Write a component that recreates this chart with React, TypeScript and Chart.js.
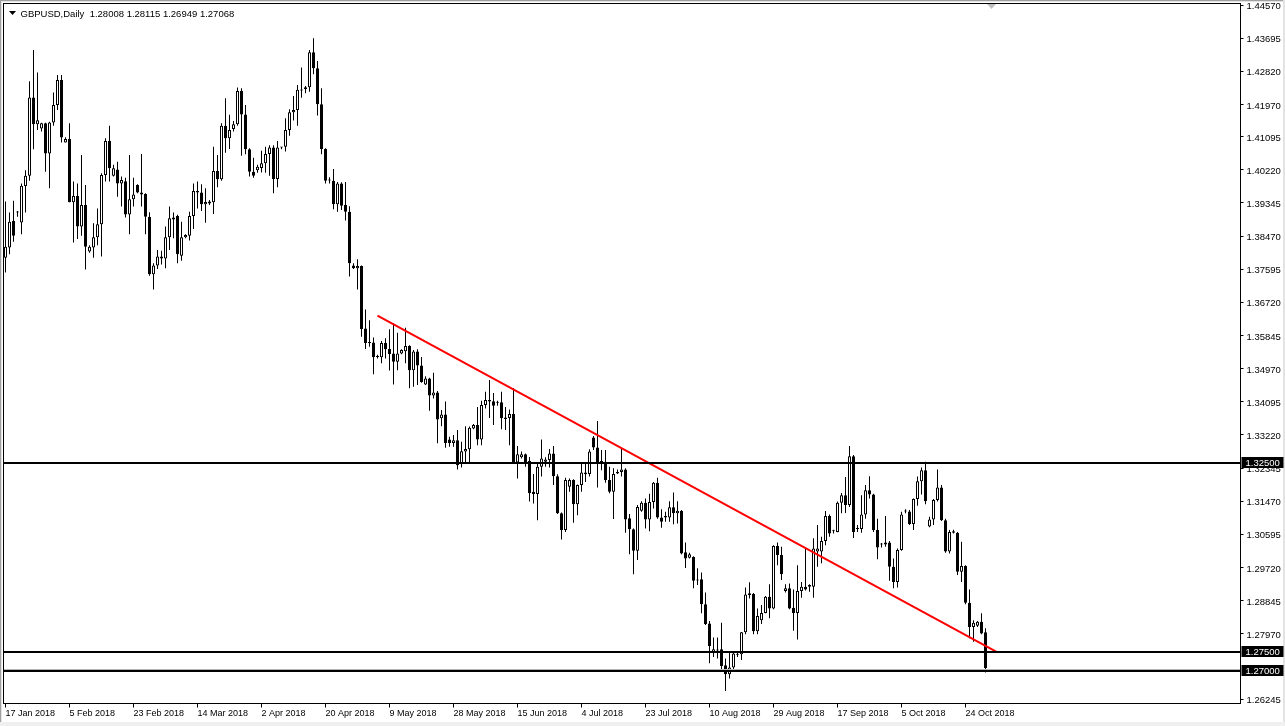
import React, { useEffect, useRef } from 'react';
import { Chart, registerables } from 'chart.js';

Chart.register(...registerables);

const opens = [
  1.3790, 1.3817, 1.3887, 1.3909, 1.3883, 1.3979, 1.4006, 1.4213, 1.4142, 1.4131,
  1.4145, 1.4065, 1.4147, 1.4193, 1.4259, 1.4094, 1.4103, 1.3936, 1.3953, 1.3872,
  1.3929, 1.3806, 1.3817, 1.3844, 1.3878, 1.4008, 1.4098, 1.4006, 1.4023, 1.3986,
  1.3992, 1.3904, 1.3944, 1.3982, 1.3962, 1.3958, 1.3898, 1.3746, 1.3769, 1.3788,
  1.3788, 1.3844, 1.3891, 1.3900, 1.3795, 1.3844, 1.3848, 1.3900, 1.3966, 1.3962,
  1.3931, 1.3938, 1.3936, 1.4019, 1.3997, 1.4138, 1.4105, 1.4130, 1.4142, 1.4230,
  1.4168, 1.4076, 1.4017, 1.4021, 1.4027, 1.4039, 1.4064, 1.4081, 1.3998, 1.4081,
  1.4083, 1.4127, 1.4174, 1.4180, 1.4234, 1.4235, 1.4240, 1.4332, 1.4290, 1.4195,
  1.4077, 1.3995, 1.3993, 1.3931, 1.3986, 1.3929, 1.3911, 1.3769, 1.3762, 1.3768,
  1.3603, 1.3566, 1.3566, 1.3529, 1.3527, 1.3565, 1.3549, 1.3537, 1.3515, 1.3537,
  1.3543, 1.3557, 1.3493, 1.3542, 1.3505, 1.3455, 1.3471, 1.3426, 1.3434, 1.3366,
  1.3376, 1.3310, 1.3301, 1.3308, 1.3247, 1.3278, 1.3284, 1.3339, 1.3348, 1.3310,
  1.3401, 1.3410, 1.3411, 1.3408, 1.3408, 1.3368, 1.3367, 1.3377, 1.3249, 1.3263,
  1.3271, 1.3253, 1.3172, 1.3166, 1.3238, 1.3251, 1.3256, 1.3273, 1.3213, 1.3115,
  1.3071, 1.3185, 1.3203, 1.3139, 1.3190, 1.3223, 1.3219, 1.3315, 1.3289, 1.3253,
  1.3251, 1.3203, 1.3172, 1.3220, 1.3224, 1.3231, 1.3102, 1.3073, 1.3016, 1.3122,
  1.3143, 1.3099, 1.3145, 1.3196, 1.3104, 1.3108, 1.3104, 1.3131, 1.3115, 1.3121,
  1.3012, 1.2998, 1.3000, 1.2940, 1.2941, 1.2875, 1.2824, 1.2747, 1.2755, 1.2756,
  1.2714, 1.2690, 1.2708, 1.2742, 1.2743, 1.2801, 1.2899, 1.2902, 1.2804, 1.2833,
  1.2852, 1.2895, 1.2864, 1.3029, 1.3005, 1.2910, 1.2917, 1.2866, 1.2852, 1.2910,
  1.2921, 1.2921, 1.2921, 1.3014, 1.3014, 1.3042, 1.3108, 1.3070, 1.3066, 1.3143,
  1.3163, 1.3137, 1.3266, 1.3076, 1.3074, 1.3112, 1.3176, 1.3165, 1.3071, 1.3035,
  1.3033, 1.3038, 1.2974, 1.2934, 1.3018, 1.3120, 1.3120, 1.3087, 1.3153, 1.3200,
  1.3229, 1.3080, 1.3099, 1.3150, 1.3183, 1.3097, 1.3014, 1.3068, 1.3064, 1.2961,
  1.2976, 1.2879, 1.2815, 1.2818, 1.2829, 1.28008,
];

const highs = [
  1.3938, 1.3909, 1.3940, 1.3913, 1.3986, 1.4021, 1.4256, 1.4338, 1.4279, 1.4146,
  1.4146, 1.4149, 1.4226, 1.4272, 1.4272, 1.4108, 1.4145, 1.3991, 1.3986, 1.4061,
  1.3982, 1.3823, 1.3881, 1.3920, 1.4013, 1.4105, 1.4138, 1.4035, 1.4043, 1.4004,
  1.4001, 1.4061, 1.4001, 1.3984, 1.4064, 1.3960, 1.3910, 1.3775, 1.3810, 1.3808,
  1.3872, 1.3925, 1.3909, 1.3903, 1.3885, 1.3852, 1.3911, 1.3986, 1.3991, 1.3984,
  1.3973, 1.3942, 1.4083, 1.4061, 1.4145, 1.4211, 1.4167, 1.4151, 1.4239, 1.4237,
  1.4193, 1.4079, 1.4054, 1.4035, 1.4072, 1.4083, 1.4087, 1.4087, 1.4098, 1.4082,
  1.4158, 1.4182, 1.4217, 1.4246, 1.4292, 1.4243, 1.4338, 1.4369, 1.4309, 1.4237,
  1.4079, 1.4002, 1.4024, 1.3990, 1.3989, 1.3990, 1.3926, 1.3775, 1.3786, 1.3769,
  1.3653, 1.3625, 1.3579, 1.3534, 1.3570, 1.3577, 1.3601, 1.3617, 1.3592, 1.3548,
  1.3605, 1.3559, 1.3546, 1.3548, 1.3528, 1.3477, 1.3473, 1.3486, 1.3438, 1.3388,
  1.3410, 1.3317, 1.3322, 1.3335, 1.3304, 1.3345, 1.3344, 1.3351, 1.3396, 1.3412,
  1.3436, 1.3467, 1.3433, 1.3412, 1.3436, 1.3396, 1.3389, 1.3445, 1.3293, 1.3278,
  1.3273, 1.3264, 1.3219, 1.3247, 1.3310, 1.3263, 1.3285, 1.3293, 1.3218, 1.3117,
  1.3209, 1.3207, 1.3205, 1.3191, 1.3245, 1.3247, 1.3284, 1.3319, 1.3359, 1.3282,
  1.3282, 1.3238, 1.3234, 1.3231, 1.3286, 1.3234, 1.3113, 1.3075, 1.3137, 1.3147,
  1.3154, 1.3167, 1.3198, 1.3209, 1.3126, 1.3119, 1.3147, 1.3170, 1.3147, 1.3124,
  1.3038, 1.3011, 1.3002, 1.2970, 1.2959, 1.2906, 1.2831, 1.2787, 1.2787, 1.2826,
  1.2732, 1.2747, 1.2747, 1.2747, 1.2802, 1.2919, 1.2933, 1.2905, 1.2864, 1.2873,
  1.2897, 1.2928, 1.3031, 1.3038, 1.3027, 1.2928, 1.2930, 1.2914, 1.2978, 1.2934,
  1.3022, 1.2928, 1.3049, 1.3084, 1.3053, 1.3121, 1.3112, 1.3072, 1.3146, 1.3169,
  1.3211, 1.3293, 1.3269, 1.3084, 1.3163, 1.3190, 1.3213, 1.3167, 1.3101, 1.3037,
  1.3108, 1.3042, 1.2996, 1.3022, 1.3119, 1.3126, 1.3124, 1.3154, 1.3212, 1.3236,
  1.3251, 1.3106, 1.3153, 1.3231, 1.3190, 1.3101, 1.3071, 1.3072, 1.3066, 1.3040,
  1.2978, 1.2914, 1.2833, 1.2831, 1.2851, 1.28115,
];

const lows = [
  1.3751, 1.3799, 1.3832, 1.3898, 1.3852, 1.3909, 1.3993, 1.4076, 1.4127, 1.4123,
  1.4017, 1.3973, 1.4138, 1.4180, 1.4094, 1.4094, 1.3936, 1.3830, 1.3839, 1.3848,
  1.3759, 1.3803, 1.3790, 1.3823, 1.3793, 1.3991, 1.3991, 1.4004, 1.3951, 1.3925,
  1.3896, 1.3852, 1.3925, 1.3960, 1.3925, 1.3852, 1.3742, 1.3706, 1.3760, 1.3772,
  1.3762, 1.3810, 1.3841, 1.3775, 1.3782, 1.3841, 1.3835, 1.3866, 1.3920, 1.3913,
  1.3882, 1.3929, 1.3905, 1.3976, 1.3993, 1.4067, 1.4077, 1.4123, 1.4138, 1.4059,
  1.4063, 1.4004, 1.4001, 1.4014, 1.4015, 1.4014, 1.4006, 1.3960, 1.3976, 1.4076,
  1.4070, 1.4112, 1.4152, 1.4138, 1.4212, 1.4224, 1.4228, 1.4274, 1.4165, 1.4063,
  1.3986, 1.3986, 1.3918, 1.3911, 1.3916, 1.3888, 1.3740, 1.3760, 1.3706, 1.3581,
  1.3549, 1.3555, 1.3482, 1.3524, 1.3511, 1.3524, 1.3492, 1.3455, 1.3493, 1.3535,
  1.3511, 1.3445, 1.3449, 1.3454, 1.3460, 1.3454, 1.3386, 1.3418, 1.3300, 1.3345,
  1.3288, 1.3291, 1.3291, 1.3231, 1.3236, 1.3249, 1.3249, 1.3337, 1.3295, 1.3295,
  1.3392, 1.3367, 1.3348, 1.3399, 1.3337, 1.3335, 1.3295, 1.3249, 1.3207, 1.3260,
  1.3238, 1.3146, 1.3141, 1.3097, 1.3212, 1.3238, 1.3236, 1.3190, 1.3113, 1.3046,
  1.3066, 1.3172, 1.3090, 1.3110, 1.3172, 1.3198, 1.3212, 1.3282, 1.3183, 1.3229,
  1.3196, 1.3168, 1.3100, 1.3219, 1.3212, 1.3064, 1.3007, 1.2954, 1.2992, 1.3119,
  1.3075, 1.3068, 1.3128, 1.3101, 1.3077, 1.3093, 1.3093, 1.3086, 1.3088, 1.3007,
  1.2971, 1.2996, 1.2917, 1.2926, 1.2851, 1.2820, 1.2719, 1.2736, 1.2732, 1.2703,
  1.2646, 1.2679, 1.2703, 1.2736, 1.2728, 1.2796, 1.2890, 1.2796, 1.2796, 1.2823,
  1.2851, 1.2838, 1.2862, 1.2978, 1.2939, 1.2906, 1.2862, 1.2805, 1.2782, 1.2892,
  1.2911, 1.2908, 1.2892, 1.2974, 1.2983, 1.3031, 1.3053, 1.3062, 1.3065, 1.3115,
  1.3116, 1.3132, 1.3050, 1.3066, 1.3064, 1.3101, 1.3154, 1.3066, 1.2994, 1.3025,
  1.3027, 1.2937, 1.2917, 1.2919, 1.3016, 1.3115, 1.3084, 1.3071, 1.3135, 1.3165,
  1.3139, 1.3078, 1.3084, 1.3146, 1.3095, 1.3011, 1.3009, 1.3062, 1.2952, 1.2934,
  1.2875, 1.2785, 1.2776, 1.2815, 1.2796, 1.26949,
];

const closes = [
  1.3819, 1.3885, 1.3848, 1.3911, 1.3980, 1.4006, 1.4213, 1.4142, 1.4153, 1.4145,
  1.4065, 1.4147, 1.4193, 1.4259, 1.4107, 1.4103, 1.3936, 1.3953, 1.3872, 1.3929,
  1.3819, 1.3819, 1.3844, 1.3878, 1.4008, 1.4098, 1.4026, 1.4026, 1.3986, 1.3995,
  1.3904, 1.3944, 1.3957, 1.3962, 1.3957, 1.3898, 1.3746, 1.3769, 1.3793, 1.3793,
  1.3844, 1.3894, 1.3896, 1.3799, 1.3844, 1.3850, 1.3900, 1.3966, 1.3962, 1.3931,
  1.3937, 1.3933, 1.4019, 1.3997, 1.4138, 1.4105, 1.4127, 1.4142, 1.4230, 1.4168,
  1.4076, 1.4017, 1.4006, 1.4030, 1.4039, 1.4064, 1.4081, 1.3998, 1.4081, 1.4082,
  1.4127, 1.4174, 1.4180, 1.4233, 1.4231, 1.4240, 1.4332, 1.4290, 1.4195, 1.4077,
  1.3993, 1.3994, 1.3931, 1.3986, 1.3927, 1.3911, 1.3775, 1.3762, 1.3768, 1.3602,
  1.3565, 1.3565, 1.3527, 1.3528, 1.3565, 1.3548, 1.3536, 1.3515, 1.3537, 1.3546,
  1.3557, 1.3493, 1.3542, 1.3505, 1.3462, 1.3471, 1.3426, 1.3434, 1.3363, 1.3376,
  1.3301, 1.3301, 1.3308, 1.3242, 1.3279, 1.3285, 1.3341, 1.3348, 1.3310, 1.3401,
  1.3414, 1.3414, 1.3399, 1.3407, 1.3366, 1.3364, 1.3377, 1.3249, 1.3271, 1.3271,
  1.3249, 1.3168, 1.3166, 1.3238, 1.3260, 1.3257, 1.3273, 1.3213, 1.3115, 1.3071,
  1.3203, 1.3203, 1.3139, 1.3190, 1.3223, 1.3218, 1.3278, 1.3289, 1.3249, 1.3250,
  1.3203, 1.3172, 1.3219, 1.3224, 1.3231, 1.3099, 1.3073, 1.3016, 1.3132, 1.3143,
  1.3099, 1.3145, 1.3196, 1.3104, 1.3093, 1.3104, 1.3131, 1.3115, 1.3122, 1.3009,
  1.2996, 1.3007, 1.2937, 1.2938, 1.2875, 1.2823, 1.2765, 1.2756, 1.2753, 1.2712,
  1.2690, 1.2708, 1.2745, 1.2743, 1.2801, 1.2901, 1.2904, 1.2804, 1.2844, 1.2852,
  1.2895, 1.2864, 1.3029, 1.3005, 1.2954, 1.2917, 1.2864, 1.2852, 1.2910, 1.2921,
  1.2914, 1.2926, 1.3022, 1.3022, 1.3042, 1.3108, 1.3062, 1.3068, 1.3143, 1.3163,
  1.3137, 1.3266, 1.3066, 1.3074, 1.3112, 1.3176, 1.3165, 1.3071, 1.3025, 1.3033,
  1.3038, 1.2974, 1.2934, 1.3018, 1.3112, 1.3122, 1.3087, 1.3153, 1.3200, 1.3229,
  1.3147, 1.3099, 1.3150, 1.3183, 1.3097, 1.3014, 1.3066, 1.3064, 1.2961, 1.2976,
  1.2879, 1.2815, 1.2826, 1.2829, 1.2798, 1.27068,
];

const dateTickBars = [0, 16, 32, 48, 64, 80, 96, 112, 128, 144, 160, 176, 192, 208, 224, 240];
const dateTickLabels = [
  '17 Jan 2018', '5 Feb 2018', '23 Feb 2018', '14 Mar 2018', '2 Apr 2018', '20 Apr 2018',
  '9 May 2018', '28 May 2018', '15 Jun 2018', '4 Jul 2018', '23 Jul 2018', '10 Aug 2018',
  '29 Aug 2018', '17 Sep 2018', '5 Oct 2018', '24 Oct 2018',
];

const priceTickValues = [
  1.4457, 1.43695, 1.4282, 1.41945, 1.41095, 1.4022, 1.39345, 1.3847, 1.37595, 1.3672,
  1.35845, 1.3497, 1.34095, 1.3322, 1.32345, 1.3147, 1.30595, 1.2972, 1.28845, 1.2797,
  1.26245,
];
const priceTickLabels = [
  '1.44570', '1.43695', '1.42820', '1.41970', '1.41095', '1.40220', '1.39345', '1.38470',
  '1.37595', '1.36720', '1.35845', '1.34970', '1.34095', '1.33220', '1.32345', '1.31470',
  '1.30595', '1.29720', '1.28845', '1.27970', '1.26245',
];

const levelValues = [1.325, 1.275, 1.27];
const levelLabels = ['1.32500', '1.27500', '1.27000'];

const trendBars = [93, 248];
const trendValues = [1.3637, 1.2748];

const headerSymbol = 'GBPUSD,Daily';
const headerOHLC = ['1.28008', '1.28115', '1.26949', '1.27068'];

const FONT = '"Liberation Sans", Arial, sans-serif';

const decorPlugin = {
  id: 'mt4Decor',
  beforeDraw(chart: any) {
    const { ctx, width, height } = chart;
    ctx.save();
    ctx.fillStyle = '#ffffff';
    ctx.fillRect(0, 0, width, height);
    ctx.fillStyle = '#a0a0a0';
    ctx.fillRect(0, 0, width, 1);
    ctx.fillRect(0, 0, 1, height);
    ctx.fillStyle = '#e3e3e3';
    ctx.fillRect(1, 1, width - 1, 1);
    ctx.fillRect(1, 1, 1, height - 1);
    ctx.fillRect(width - 2, 0, 2, height);
    ctx.fillStyle = '#f0f0f0';
    ctx.fillRect(0, height - 4, width, 4);
    ctx.restore();
  },
  afterDatasetsDraw(chart: any) {
    const { ctx, chartArea } = chart;
    const y = chart.scales.y;
    ctx.save();
    levelValues.forEach((v, i) => {
      const py = Math.floor(y.getPixelForValue(v));
      if (i === levelValues.length - 1) {
        ctx.fillStyle = '#b4b4b4';
        ctx.fillRect(chartArea.left, py - 1, chartArea.right - chartArea.left, 1);
      }
      ctx.fillStyle = '#000000';
      ctx.fillRect(chartArea.left, py, chartArea.right - chartArea.left, 2);
    });
    ctx.restore();
  },
  afterDraw(chart: any) {
    const { ctx, chartArea } = chart;
    const y = chart.scales.y;
    ctx.save();
    ctx.strokeStyle = '#000000';
    ctx.lineWidth = 1;
    ctx.strokeRect(chartArea.left, chartArea.top, chartArea.right - chartArea.left, chartArea.bottom - chartArea.top);

    ctx.font = '9.5px ' + FONT;
    ctx.textBaseline = 'middle';
    ctx.textAlign = 'left';
    levelValues.forEach((v, i) => {
      const py = Math.floor(y.getPixelForValue(v));
      ctx.fillStyle = '#000000';
      ctx.fillRect(chartArea.right + 1, py - 5, 42, 11);
      ctx.fillStyle = '#ffffff';
      ctx.fillText(levelLabels[i], chartArea.right + 5, py + 1);
    });

    ctx.fillStyle = '#000000';
    ctx.beginPath();
    ctx.moveTo(9, 11);
    ctx.lineTo(16, 11);
    ctx.lineTo(12.5, 15);
    ctx.closePath();
    ctx.fill();
    ctx.textBaseline = 'alphabetic';
    ctx.font = '9.5px ' + FONT;
    ctx.fillText(headerSymbol + '  ' + headerOHLC.join(' '), 20.5, 17);

    ctx.fillStyle = '#c0c0c0';
    ctx.beginPath();
    ctx.moveTo(987, 4);
    ctx.lineTo(996, 4);
    ctx.lineTo(991.5, 9);
    ctx.closePath();
    ctx.fill();
    ctx.restore();
  },
};

function zeroPadding(s: any) {
  s.paddingTop = 0;
  s.paddingBottom = 0;
  s.paddingLeft = 0;
  s.paddingRight = 0;
}

export default function App() {
  const canvasRef = useRef<HTMLCanvasElement | null>(null);

  useEffect(() => {
    document.body.style.margin = '0';
    const canvas = canvasRef.current;
    if (!canvas) return;

    const wickData = highs.map((h, i) => ({ x: i, y: [lows[i], h] }));
    const bodyData = opens.map((o, i) => ({ x: i, y: [o, closes[i]] }));
    const bodyColors = opens.map((o, i) => (closes[i] >= o ? '#ffffff' : '#000000'));
    const trendData = trendBars.map((b, i) => ({ x: b, y: trendValues[i] }));

    const chart = new Chart(canvas, {
      type: 'bar',
      data: {
        datasets: [
          {
            type: 'line',
            data: trendData,
            borderColor: '#ff0000',
            borderWidth: 2,
            pointRadius: 0,
            fill: false,
            order: 0,
          } as any,
          {
            type: 'bar',
            data: bodyData,
            backgroundColor: bodyColors,
            borderColor: '#000000',
            borderWidth: 1,
            borderSkipped: false,
            barThickness: 3,
            minBarLength: 1,
            grouped: false,
            inflateAmount: 0,
            order: 1,
          } as any,
          {
            type: 'bar',
            data: wickData,
            backgroundColor: '#000000',
            borderWidth: 0,
            barThickness: 1,
            minBarLength: 1,
            grouped: false,
            inflateAmount: 0,
            order: 2,
          } as any,
        ],
      },
      options: {
        animation: false,
        responsive: true,
        maintainAspectRatio: false,
        devicePixelRatio: 1,
        layout: { padding: { left: 3.5, top: 3.5, right: 0, bottom: 0 } },
        plugins: {
          legend: { display: false },
          tooltip: { enabled: false },
          title: { display: false },
        },
        scales: {
          x: {
            type: 'linear',
            min: -0.5,
            max: 308.75,
            offset: false,
            border: { display: false },
            grid: {
              drawOnChartArea: false,
              drawTicks: true,
              tickLength: 4,
              color: '#000000',
              offset: false,
            },
            ticks: {
              autoSkip: false,
              maxRotation: 0,
              minRotation: 0,
              align: 'start',
              padding: 1,
              color: '#000000',
              font: { family: FONT, size: 9 },
              callback: (_v: any, idx: number) => dateTickLabels[idx],
            },
            afterBuildTicks: (s: any) => {
              s.ticks = dateTickBars.map((v) => ({ value: v }));
            },
            afterFit: (s: any) => {
              s.height = 22.5;
              zeroPadding(s);
            },
          },
          y: {
            type: 'linear',
            position: 'right',
            min: 1.2613,
            max: 1.4461,
            border: { display: false },
            grid: {
              drawOnChartArea: false,
              drawTicks: true,
              tickLength: 3,
              color: '#000000',
            },
            ticks: {
              autoSkip: false,
              padding: 3,
              labelOffset: 1.5,
              color: '#000000',
              font: { family: FONT, size: 9.5 },
              callback: (_v: any, idx: number) => priceTickLabels[idx],
            },
            afterBuildTicks: (s: any) => {
              s.ticks = priceTickValues.map((v) => ({ value: v }));
            },
            afterFit: (s: any) => {
              s.width = 44.5;
              zeroPadding(s);
            },
          },
        },
      } as any,
      plugins: [decorPlugin],
    });

    return () => {
      chart.destroy();
    };
  }, []);

  return (
    <div style={{ position: 'relative', width: 1285, height: 726 }}>
      <canvas ref={canvasRef} />
    </div>
  );
}
